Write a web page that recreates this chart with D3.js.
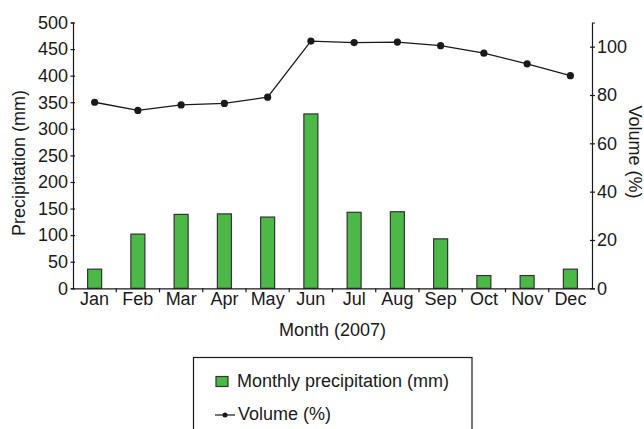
<!DOCTYPE html>
<html>
<head>
<meta charset="utf-8">
<script src="https://cdn.jsdelivr.net/npm/d3@7"></script>
<style>
  body { margin: 0; background: #fff; }
  svg text { font-family: "Liberation Sans", Arial, sans-serif; fill: #1a1a1a; }
</style>
</head>
<body>
<script>
// data
const months = ["Jan", "Feb", "Mar", "Apr", "May", "Jun", "Jul", "Aug", "Sep", "Oct", "Nov", "Dec"];
const precipitation = [36, 102, 139, 140, 134, 328, 143, 144, 93, 24, 24, 36];
const volume = [77.0, 73.6, 75.9, 76.5, 79.1, 102.3, 101.7, 101.9, 100.4, 97.3, 92.9, 88.0];
const precipTicks = [0, 50, 100, 150, 200, 250, 300, 350, 400, 450, 500];
const volumeTicks = [0, 20, 40, 60, 80, 100];

const width = 644,
      height = 429,
      plotLeft = 73,
      plotRight = 592,
      plotTop = 22.5,
      plotBottom = 288.3,
      fontSize = 18,
      barColor = "#4cb848",
      inkColor = "#1a1a1a";

const svg = d3.select("body").append("svg")
  .attr("width", width)
  .attr("height", height);

const x = d3.scaleBand().domain(months).range([plotLeft, plotRight]);
const yLeft = d3.scaleLinear().domain([0, 500]).range([plotBottom, plotTop]);
const yRight = d3.scaleLinear().domain([0, 110]).range([plotBottom, plotTop]);

// bars
svg.append("g")
  .selectAll("rect")
  .data(months)
  .enter()
  .append("rect")
  .attr("x", (m) => x(m) + x.bandwidth() / 2 - 7)
  .attr("width", 14)
  .attr("y", (m, i) => yLeft(precipitation[i]))
  .attr("height", (m, i) => plotBottom - yLeft(precipitation[i]))
  .attr("fill", barColor)
  .attr("stroke", "#333")
  .attr("stroke-width", 1.2);

// volume line
const line = d3.line()
  .x((d, i) => x(months[i]) + x.bandwidth() / 2)
  .y((d) => yRight(d));

svg.append("path")
  .datum(volume)
  .attr("d", line)
  .attr("fill", "none")
  .attr("stroke", inkColor)
  .attr("stroke-width", 1.3);

svg.append("g")
  .selectAll("circle")
  .data(volume)
  .enter()
  .append("circle")
  .attr("cx", (d, i) => x(months[i]) + x.bandwidth() / 2)
  .attr("cy", (d) => yRight(d))
  .attr("r", 3.6)
  .attr("fill", inkColor);

// axes
const styleAxis = (g) => {
  g.select(".domain").attr("stroke", inkColor).attr("stroke-width", 1.2);
  g.selectAll(".tick line").attr("stroke", inkColor).attr("stroke-width", 1.2);
  g.selectAll(".tick text").attr("font-size", fontSize).attr("fill", inkColor);
};

const gLeft = svg.append("g")
  .attr("transform", `translate(${plotLeft},0)`)
  .call(d3.axisLeft(yLeft).tickValues(precipTicks).tickSizeOuter(0).tickSize(2).tickPadding(3))
  .call(styleAxis);
gLeft.selectAll(".tick line").attr("x2", 2).attr("x1", -2.5);

const gRight = svg.append("g")
  .attr("transform", `translate(${plotRight},0)`)
  .call(d3.axisRight(yRight).tickValues(volumeTicks).tickSizeOuter(0).tickSize(3).tickPadding(2))
  .call(styleAxis);
gRight.selectAll(".tick line").attr("x1", -2).attr("x2", 3);

const gBottom = svg.append("g")
  .attr("transform", `translate(0,${plotBottom})`)
  .call(d3.axisBottom(x).tickSize(0).tickSizeOuter(0).tickPadding(0))
  .call(styleAxis);
gBottom.selectAll(".tick text").attr("dy", null).attr("y", 17);

// small ticks between month bands
gBottom.append("g")
  .selectAll("line")
  .data(months.slice(1))
  .enter()
  .append("line")
  .attr("x1", (m) => x(m))
  .attr("x2", (m) => x(m))
  .attr("y1", 0)
  .attr("y2", 4)
  .attr("stroke", inkColor)
  .attr("stroke-width", 1.2);

// axis titles
svg.append("text")
  .attr("transform", "translate(25,163) rotate(-90)")
  .attr("text-anchor", "middle")
  .attr("font-size", fontSize)
  .text("Precipitation (mm)");

svg.append("text")
  .attr("transform", "translate(629,152) rotate(90)")
  .attr("text-anchor", "middle")
  .attr("font-size", fontSize)
  .text("Volume (%)");

svg.append("text")
  .attr("x", (plotLeft + plotRight) / 2)
  .attr("y", 336)
  .attr("text-anchor", "middle")
  .attr("font-size", fontSize)
  .text("Month (2007)");

// legend
const legend = svg.append("g");
legend.append("rect")
  .attr("x", 193.5)
  .attr("y", 357.5)
  .attr("width", 278.5)
  .attr("height", 80)
  .attr("fill", "none")
  .attr("stroke", inkColor)
  .attr("stroke-width", 1.2);

legend.append("rect")
  .attr("x", 216)
  .attr("y", 376.5)
  .attr("width", 12)
  .attr("height", 10)
  .attr("fill", barColor)
  .attr("stroke", "#333")
  .attr("stroke-width", 1.2);

legend.append("text")
  .attr("x", 237)
  .attr("y", 387)
  .attr("font-size", fontSize)
  .text("Monthly precipitation (mm)");

legend.append("line")
  .attr("x1", 215)
  .attr("x2", 235)
  .attr("y1", 415)
  .attr("y2", 415)
  .attr("stroke", inkColor)
  .attr("stroke-width", 1.2);

legend.append("circle")
  .attr("cx", 225)
  .attr("cy", 415)
  .attr("r", 2.5)
  .attr("fill", inkColor);

legend.append("text")
  .attr("x", 238)
  .attr("y", 420)
  .attr("font-size", fontSize)
  .text("Volume (%)");
</script>
</body>
</html>
